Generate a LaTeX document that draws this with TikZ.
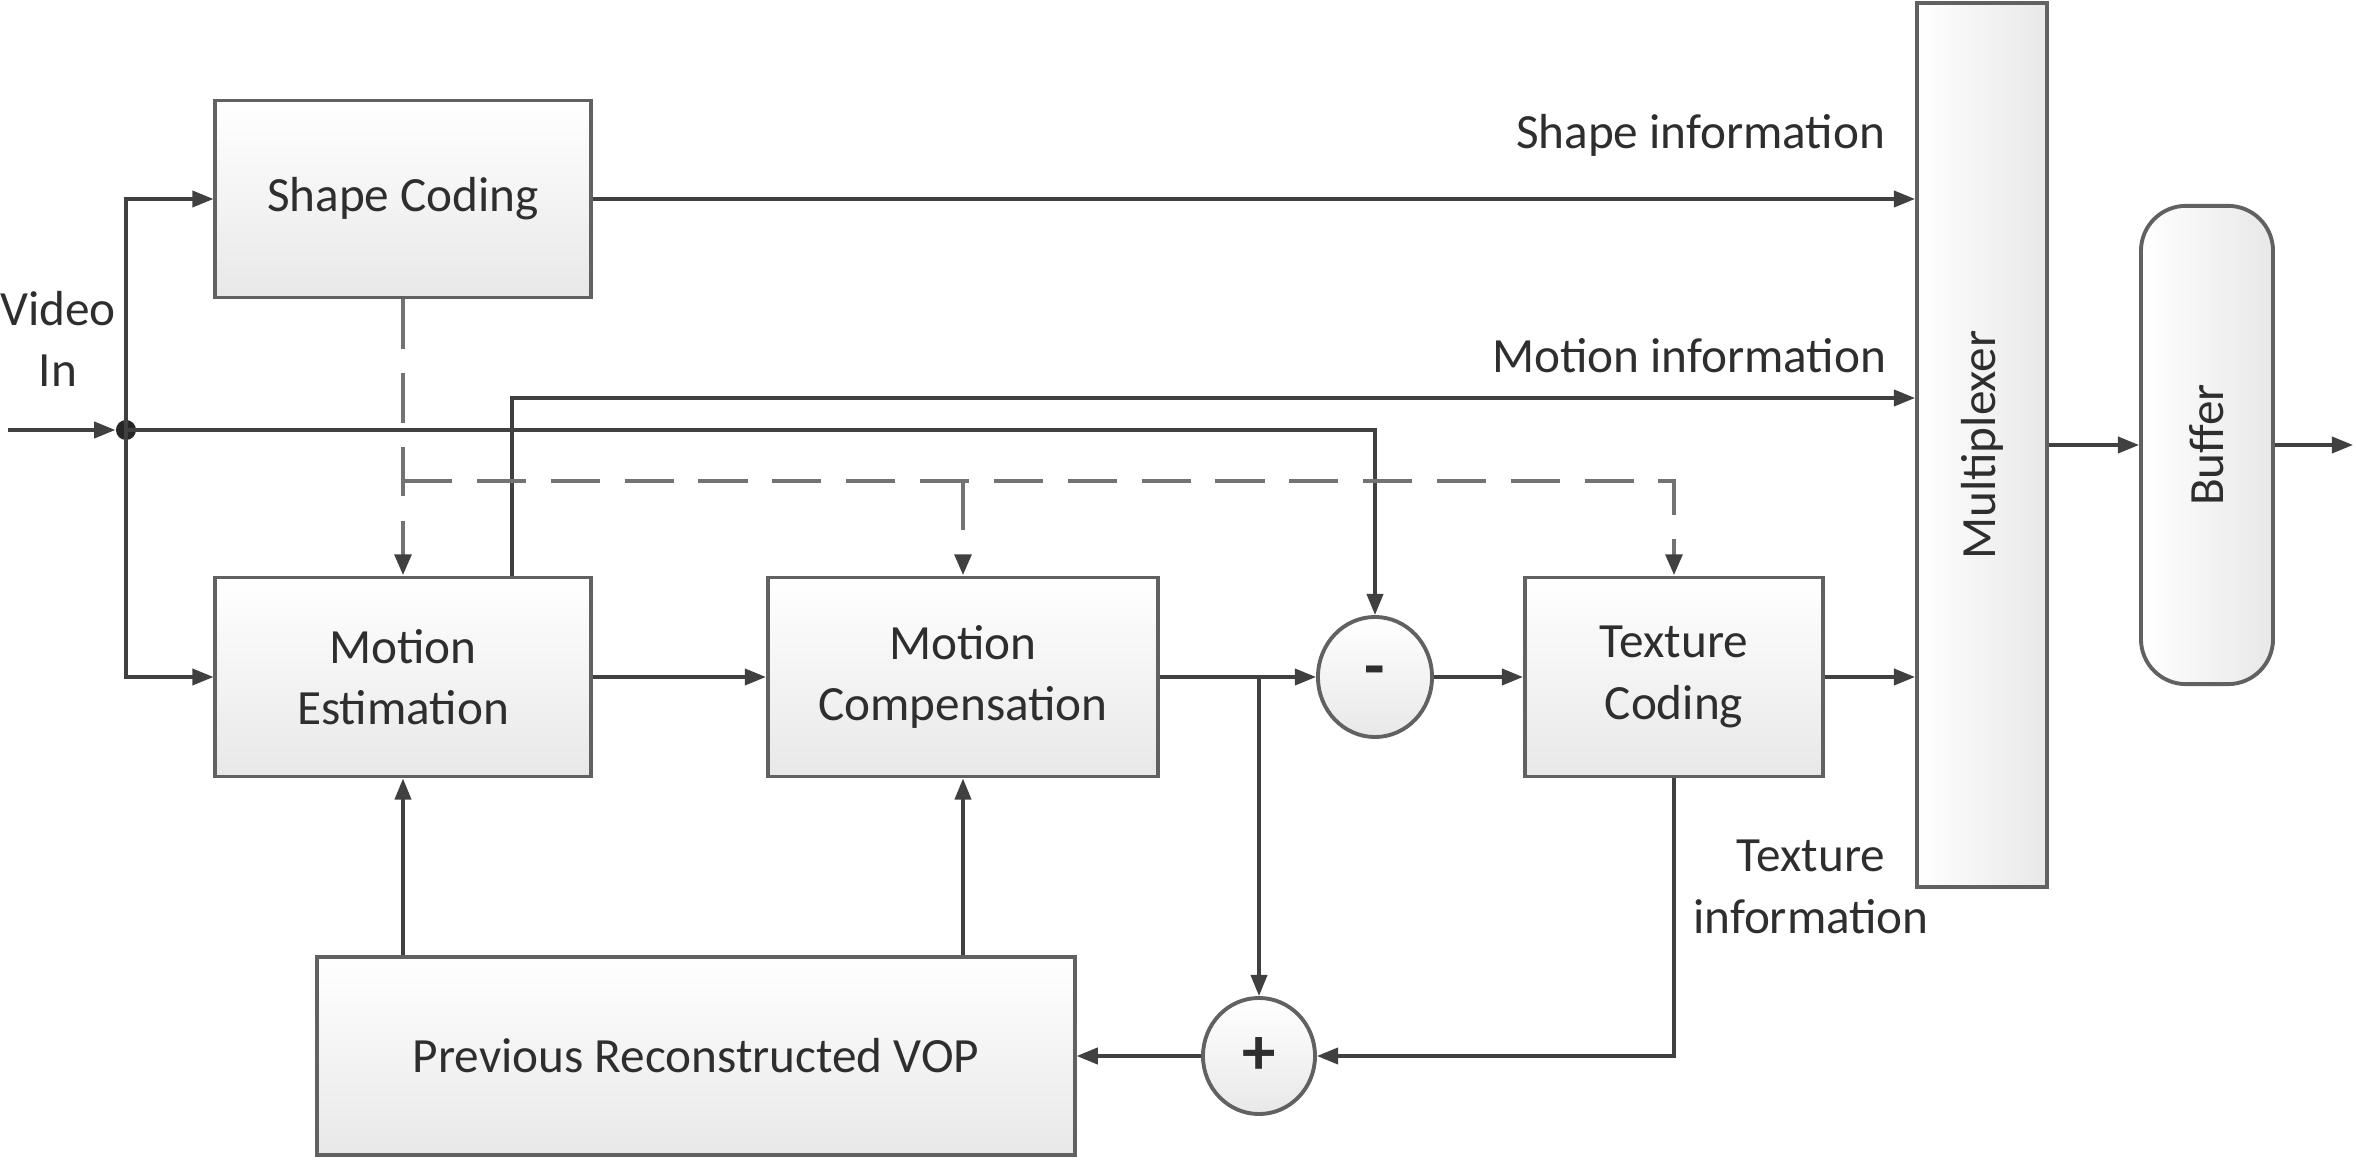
\documentclass[tikz,border=0pt]{standalone}
\usepackage{fontspec}
\setmainfont{Carlito}
\usetikzlibrary{arrows.meta,shapes.geometric,calc}
\begin{document}
\begin{tikzpicture}[x=0.01cm,y=-0.01cm,
  blk/.style={draw=black!62, line width=1.1pt, top color=white, bottom color=black!9,
    text=black!82, font=\fontsize{14}{17.5}\selectfont, align=center, inner sep=0pt},
  sym/.style={blk, ellipse, font=\fontsize{19}{20}\selectfont\bfseries},
  tip/.style={-{Triangle[length=6pt,width=4.6pt]}},
  conn/.style={draw=black!75, line width=0.95pt, tip},
  dsh/.style={draw=black!55, line width=1.4pt, dash pattern=on 14pt off 7pt},
  dsharr/.style={dsh, -{Triangle[length=6pt,width=4.6pt,color=black!75]}},
  lbl/.style={text=black!82, font=\fontsize{14}{17.5}\selectfont, align=center, inner sep=0pt}
]
\useasboundingbox (0,0) rectangle (2356,1164);

% blocks
\node[blk, minimum width=3.75cm, minimum height=1.97cm] (sc) at (403,199) {Shape Coding};
\node[blk, minimum width=3.75cm, minimum height=1.99cm] (me) at (403,677) {Motion\\Estimation};
\node[blk, minimum width=3.9cm, minimum height=1.99cm] (mc) at (963,677) {Motion\\Compensation};
\node[sym, minimum width=1.14cm, minimum height=1.2cm] (minus) at (1375,677) {-};
\node[blk, minimum width=2.98cm, minimum height=1.99cm] (tc) at (1674,677) {Texture\\Coding};
\node[blk, left color=white, right color=black!9,
      minimum width=1.3cm, minimum height=8.84cm] (mux) at (1982,445) {};
\node[lbl, rotate=90] (muxl) at (mux) {Multiplexer};
\node[blk, rounded corners=0.45cm, left color=white, right color=black!9,
      minimum width=1.32cm, minimum height=4.78cm] (buf) at (2207,445) {};
\node[lbl, rotate=90] (bufl) at (buf) {Buffer};
\node[blk, minimum width=7.57cm, minimum height=1.98cm] (prv) at (696,1056) {Previous Reconstructed VOP};
\node[sym, minimum width=1.12cm, minimum height=1.16cm] (plus) at (1259,1056) {+};

% input
\coordinate (vin) at (8,430);
\node[circle, fill=black!85, inner sep=0pt, minimum size=0.2cm] (dot) at (126,430) {};
\node[lbl] (vlab) at (58,339) {Video\\In};
\draw[conn] (vin) -- (dot.west);
\draw[conn] (dot.center) |- (sc.west);
\draw[conn] (dot.center) |- (me.west);
\draw[conn] (dot.center) -| (minus.north);

% information lines to multiplexer
\coordinate (mi) at (0,398);
\draw[conn] (sc.east) -- (sc.east -| mux.west);
\draw[conn] ([xshift=1.09cm]me.north) |- (mux.west |- mi);
\draw[conn] (tc.east) -- (tc.east -| mux.west);
\node[lbl, anchor=east] (lsi) at (1886,135) {Shape information};
\node[lbl, anchor=east] (lmi) at (1887,356) {Motion information};
\node[lbl] (lti) at (1811,887) {Texture\\information};

% main chain
\draw[conn] (me.east) -- (mc.west);
\draw[conn] (mc.east) -- (minus.west);
\coordinate (jn) at (1259,677);
\draw[conn] (jn) -- (plus.north);
\draw[conn] (minus.east) -- (tc.west);
\draw[conn] (tc.south) |- (plus.east);
\draw[conn] (plus.west) -- (prv.east);
\draw[conn] (prv.north -| me.south) -- (me.south);
\draw[conn] (prv.north -| mc.south) -- (mc.south);

% output
\draw[conn] (mux.east |- buf.west) -- (buf.west);
\coordinate (out) at (2353,445);
\draw[conn] (buf.east) -- (out);

% dashed shape-info lines
\coordinate (dh) at (403,481);
\draw[dsharr] (sc.south) -- (me.north);
\draw[dsharr] (dh) -| (tc.north);
\draw[dsharr] (dh -| mc.north) -- (mc.north);
\end{tikzpicture}
\end{document}
